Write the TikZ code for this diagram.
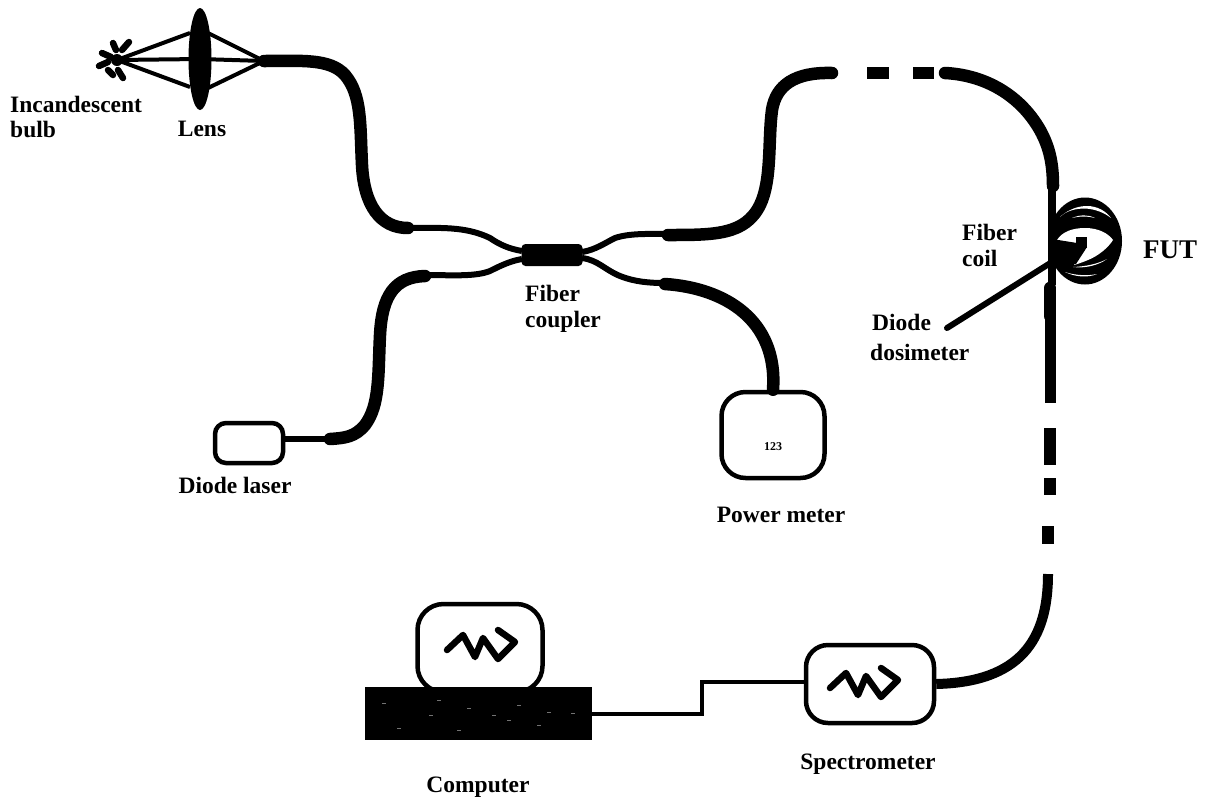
\documentclass[tikz,border=0pt]{standalone}
\usepackage{fontspec}
\setmainfont{Liberation Serif}
\usetikzlibrary{shapes.geometric,calc}
\tikzset{
  lbl/.style={inner sep=0pt,font=\fontsize{23.5}{26}\selectfont\bfseries,align=left},
  fibthick/.style={line width=12.5pt,line cap=round},
  fibthin/.style={line width=6pt},
  ray/.style={line width=4pt},
  spark/.style={line width=6.5pt,line cap=round},
  instr/.style={draw,line width=4.5pt,rounded corners=22pt,fill=white,inner sep=0pt},
  wave/.style={line width=6.5pt,line cap=round,line join=round},
  wire/.style={line width=4pt,line join=miter}
}
\begin{document}
\begin{tikzpicture}[x=1pt,y=-1pt]
\useasboundingbox (0,0) rectangle (1218,804);
% bulb and lens
\coordinate (bulb) at (117,60);
\coordinate (focus) at (264,61);
\node[ellipse,fill=black,minimum width=23pt,minimum height=102pt,inner sep=0pt] (lens) at (200,59) {};
\fill (bulb) circle (6pt);
\draw[ray] (bulb) -- (lens.center);
\draw[ray] (bulb) -- (190,33);
\draw[ray] (bulb) -- (190,87);
\draw[ray] (lens.center) -- (focus);
\draw[ray] (208,33) -- (focus);
\draw[ray] (208,88) -- (focus);
\draw[spark] (102,53) -- (111,57);
\draw[spark] (113,43) -- (116,50);
\draw[spark] (122,50) -- (129,42);
\draw[spark] (99,66) -- (108,62);
\draw[spark] (108,70) -- (113,75);
\draw[spark] (118,70) -- (123,78);
% coupler
\node[fill=black,rounded corners=4pt,minimum width=61pt,minimum height=22pt,inner sep=0pt] (coupler) at (552,255) {};
\coordinate (cNW) at (522,251);
\coordinate (cSW) at (522,259);
\coordinate (cNE) at (582,252);
\coordinate (cSE) at (582,258);
% instruments
\node[instr,rounded corners=11pt,minimum width=68pt,minimum height=40pt] (laser) at (249,443) {};
\node[instr,rounded corners=24pt,minimum width=103pt,minimum height=86pt] (meter) at (773,435) {};
\node[instr,rounded corners=26pt,minimum width=125pt,minimum height=88pt] (monitor) at (480,648) {};
\node[instr,minimum width=128pt,minimum height=78pt] (spec) at (870,684) {};
\node[fill=black,minimum width=227pt,minimum height=53pt,inner sep=0pt] (pc) at (478,713) {};
\foreach \p/\q in {470/708,520/705,540/725,495/715,510/720,432/715,385/703,440/700,550/712,574/713,400/728,460/730}{\fill[white,opacity=.45] (\p-3,\q) rectangle (\p+1,\q+1.2);}
% upper-left fiber
\draw[fibthick] (focus) .. controls (300,61) and (330,58) .. (345,75) .. controls (362,95) and (360,125) .. (362,165) .. controls (364,205) and (380,228) .. (408,228);
\draw[fibthin] (408,228) .. controls (440,228) and (465,226) .. (490,238) .. controls (500,245) and (510,249) .. (cNW);
% lower-left fiber
\draw[fibthin] (cSW) .. controls (510,261) and (500,266) .. (490,271) .. controls (475,277) and (450,275) .. (425,275);
\draw[fibthick] (425,276) .. controls (395,277) and (382,295) .. (380,335) .. controls (378,375) and (380,405) .. (365,425) .. controls (355,437) and (345,438) .. (330,439);
\draw[fibthin] (330,439) -- ($(laser.east)+(0,-4)$);
% upper-right fiber
\draw[fibthin] (cNE) .. controls (595,250) and (605,243) .. (615,238) .. controls (630,233) and (650,234) .. (668,234);
\draw[fibthick] (668,235) .. controls (715,235) and (745,235) .. (760,205) .. controls (772,180) and (768,140) .. (772,110) .. controls (776,85) and (795,72) .. (832,73);
\draw[line width=12pt] (867,73) -- (889,73);
\draw[line width=12pt] (913,73) -- (934,73);
\draw[fibthick] (945,73) .. controls (985,75) and (1020,95) .. (1040,130) .. controls (1050,148) and (1053,165) .. (1053,186);
% coil
\fill (1085,241) ellipse (37pt and 43.5pt);
\fill (1052,218) rectangle (1065,265);
\fill[white] (1060,217) .. controls (1070,208) and (1080,206) .. (1087,206) .. controls (1097,206) and (1106,211) .. (1111,218) .. controls (1104,212.5) and (1095,209) .. (1085,208.5) .. controls (1075,208.5) and (1066,211) .. cycle;
\fill[white] (1072,218) .. controls (1080,214.5) and (1088,214.5) .. (1095,218) .. controls (1088,216) and (1080,216) .. cycle;
\fill[white] (1057,240) .. controls (1062,232) and (1072,228) .. (1085,228) .. controls (1098,228) and (1108,233) .. (1113,240) .. controls (1108,248) and (1098,256) .. (1088,260) .. controls (1083,262) and (1078,264) .. (1074,265) -- (1074,250) -- cycle;
\fill[white] (1065,272) .. controls (1075,277) and (1088,278) .. (1097,274) .. controls (1088,276) and (1075,275.5) .. cycle;
\fill[white] (1073,267) .. controls (1085,268.5) and (1098,265.5) .. (1107,259) .. controls (1098,264) and (1085,266.5) .. cycle;
\fill[white] (1063,262) circle (1pt);
\draw[line width=8pt] (1052,186) -- (1052,285);
\node[fill=black,minimum width=11pt,minimum height=11pt,inner sep=0pt] (probe) at (1081.5,242) {};
\fill (1052,239) -- (1077,243) -- (1087,247) -- (1076,264) -- (1056,268) -- cycle;
% dosimeter lead
\coordinate (dosi) at (947,328);
\draw[line width=6pt,line cap=round] (dosi) -- (1052,262);
% lower-right fiber
\draw[fibthin] (cSE) .. controls (598,260) and (605,270) .. (620,276) .. controls (635,282) and (650,283) .. (665,283);
\draw[fibthick] (665,284) .. controls (725,288) and (778,320) .. (meter.north);
% fiber down
\draw[fibthick] (1050,288) -- (1050,316);
\draw[line width=11pt] (1050,315) -- (1050,403);
\draw[line width=12pt] (1050,428) -- (1050,465);
\draw[line width=12pt] (1050,478) -- (1050,495);
\draw[line width=12pt] (1048,526) -- (1048,544);
\draw[line width=10pt] (1048,574) .. controls (1048,640) and (1020,682) .. (spec.east);
% wire
\draw[wire] (pc.east) ++(0,1) -- (702,714) -- (702,682) -- ($(spec.west)+(0,-2)$);
% waves
\draw[wave] (447,650) -- (463,635) -- (475,657) -- (483,638) -- (498,659) -- (515,642) -- (498,630);
\draw[wave,shift={(383,38)}] (447,650) -- (463,635) -- (475,657) -- (483,638) -- (498,659) -- (515,642) -- (498,630);
% labels
\node[lbl,anchor=west] (linc) at (10,104) {Incandescent};
\node[lbl,anchor=west] (lbulb) at (10,129) {bulb};
\node[lbl] (llens) at (202,129) {Lens};
\node[lbl,anchor=west] (lfib) at (525,293) {Fiber};
\node[lbl,anchor=west] (lcoup) at (525,322) {coupler};
\node[lbl] (ldl) at (235,485) {Diode laser};
\node[lbl] (lpm) at (781,515) {Power meter};
\node[lbl,font=\fontsize{12}{14}\selectfont\bfseries] (l123) at (773,447) {123};
\node[lbl,anchor=west] (lfc) at (962,232) {Fiber};
\node[lbl,anchor=west] (lcoil) at (962,258) {coil};
\node[lbl,anchor=west] (ldd) at (872,322) {Diode};
\node[lbl,anchor=west] (ldos) at (870,352) {dosimeter};
\node[lbl,font=\fontsize{27}{30}\selectfont\bfseries,anchor=west] (lfut) at (1143,250) {FUT};
\node[lbl] (lcomp) at (478,787) {Computer};
\node[lbl] (lspec) at (868,764) {Spectrometer};
\end{tikzpicture}
\end{document}
